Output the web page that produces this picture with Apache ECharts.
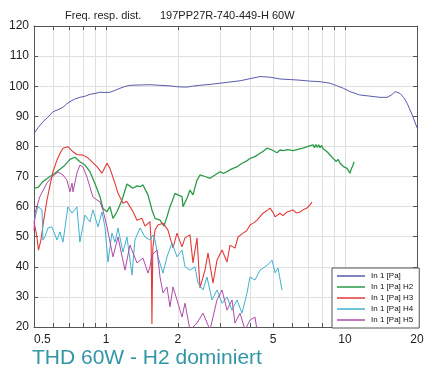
<!DOCTYPE html>
<html>
<head>
<meta charset="utf-8">
<script src="https://cdn.jsdelivr.net/npm/echarts@6/dist/echarts.min.js"></script>
<style>
html,body{margin:0;padding:0;background:#fff;}
#chart{width:432px;height:372px;}
</style>
</head>
<body>
<div id="chart"></div>
<script>
// frequency in kHz, level in dB
var seriesNames = ['In 1 [Pa]', 'In 1 [Pa] H2', 'In 1 [Pa] H3', 'In 1 [Pa] H4', 'In 1 [Pa] H5'];
var xTickValues = [0.5, 0.6, 0.7, 0.8, 0.9, 1, 2, 3, 4, 5, 6, 7, 8, 9, 10, 20];
var xLabelValues = [0.5, 1, 2, 5, 10, 20];

var fund = [[0.5,84.3],[0.52,86.2],[0.545,88.2],[0.57,89.6],[0.6,91.5],[0.63,92.2],[0.661,93.0],[0.685,94.1],[0.707,94.9],
    [0.74,95.7],[0.778,96.3],[0.82,96.7],[0.857,97.3],[0.9,97.6],[0.944,98.0],[0.99,97.9],[1.039,98.0],[1.09,98.6],
    [1.144,99.3],[1.2,99.9],[1.26,100.3],[1.39,100.4],[1.528,100.5],[1.68,100.3],[1.853,100.1],[2.0,99.8],[2.18,99.7],
    [2.3,100.0],[2.47,100.3],[2.72,100.6],[3.0,101.0],[3.3,101.4],[3.64,101.8],[4.0,102.5],[4.41,103.2],[4.85,103.0],
    [5.34,102.4],[5.9,102.2],[6.48,102.0],[7.1,101.7],[7.85,101.5],[8.65,101.0],[9.2,100.2],[9.84,99.3],[10.5,98.2],
    [11.5,97.1],[12.7,96.7],[14.0,96.3],[15.0,96.3],[15.7,97.2],[16.2,98.2],[17.0,97.6],[17.6,96.2],[18.2,94.3],
    [19.2,90.0],[20,86.2]];

var h2 = [[0.5,66.1],[0.52,66.4],[0.545,68.3],[0.56,69.0],[0.583,70.0],[0.61,71.0],[0.642,72.4],[0.67,73.6],[0.707,75.7],
    [0.742,76.4],[0.778,74.9],[0.817,73.8],[0.857,71.6],[0.899,67.7],[0.944,63.3],[0.971,59.4],[1.010,58.3],[1.039,60.0],
    [1.070,56.1],[1.112,58.3],[1.167,62.2],[1.224,67.5],[1.26,66.8],[1.297,66.1],[1.35,66.9],[1.388,66.6],[1.428,67.2],
    [1.499,63.9],[1.557,58.9],[1.604,56.1],[1.683,55.5],[1.748,53.5],[1.800,56.6],[1.853,60.0],[1.889,61.6],[1.944,64.4],
    [2.001,63.9],[2.080,63.3],[2.100,60.0],[2.183,62.8],[2.246,65.5],[2.312,63.9],[2.403,68.8],[2.474,70.5],[2.596,70.0],
    [2.724,69.4],[2.858,70.5],[2.999,71.6],[3.1,71.0],[3.209,71.6],[3.3,72.2],[3.400,72.7],[3.55,73.3],[3.707,74.4],
    [3.85,75.0],[4.005,76.0],[4.2,76.6],[4.410,77.7],[4.55,78.4],[4.717,79.4],[4.951,78.8],[5.194,77.9],[5.346,78.8],
    [5.503,78.6],[5.75,78.9],[6.059,78.6],[6.35,79.0],[6.674,79.4],[6.95,79.9],[7.1,80.2],[7.347,80.5],[7.45,79.6],
    [7.55,80.6],[7.65,79.7],[7.76,80.5],[7.86,79.6],[7.98,80.3],[8.1,79.2],[8.25,79.4],[8.408,78.2],[8.5,78.8],
    [8.62,77.3],[8.75,77.9],[8.910,76.0],[9.05,76.6],[9.2,75.0],[9.35,75.7],[9.530,74.4],[9.7,74.9],[9.85,73.3],
    [10.0,73.9],[10.19,72.7],[10.3,73.1],[10.49,71.1],[10.6,72.3],[10.70,72.7],[10.8,73.8],[10.91,74.9]];

var h3 = [[0.5,55.0],[0.514,50.0],[0.522,45.5],[0.535,49.0],[0.548,55.0],[0.566,62.0],[0.583,67.0],[0.6,71.5],[0.624,75.5],
    [0.645,78.0],[0.661,79.4],[0.693,79.9],[0.728,78.2],[0.756,77.3],[0.801,77.1],[0.83,76.5],[0.857,75.5],[0.917,73.3],
    [0.962,71.1],[1.010,74.4],[1.039,72.7],[1.091,67.7],[1.123,64.4],[1.178,61.1],[1.22,61.8],[1.26,60.0],[1.30,58.2],
    [1.348,55.5],[1.414,56.1],[1.456,53.5],[1.528,55.0],[1.545,48.0],[1.557,21.0],[1.570,46.0],[1.604,52.2],[1.651,53.9],
    [1.732,54.5],[1.817,52.2],[1.907,46.2],[1.982,51.2],[2.080,46.6],[2.141,49.6],[2.246,50.6],[2.312,41.3],[2.403,49.6],
    [2.474,33.0],[2.596,38.9],[2.672,44.6],[2.804,34.6],[2.914,42.2],[3.058,45.6],[3.209,41.6],[3.303,47.2],[3.465,46.2],
    [3.567,49.9],[3.744,51.2],[3.88,52.0],[4.005,53.9],[4.15,54.6],[4.283,55.5],[4.539,57.8],[4.7,58.6],[4.857,59.5],
    [5.0,58.0],[5.095,56.6],[5.346,57.8],[5.5,57.0],[5.719,58.2],[6.059,58.9],[6.25,57.9],[6.482,58.2],[6.7,59.0],
    [6.935,59.5],[7.1,60.4],[7.277,61.5]];

var h4 = [[0.5,55.0],[0.519,60.0],[0.540,58.9],[0.545,48.9],[0.556,50.0],[0.572,52.9],[0.594,53.3],[0.624,48.9],
    [0.642,51.6],[0.661,48.2],[0.693,59.9],[0.721,57.8],[0.756,59.9],[0.778,48.2],[0.817,57.2],[0.857,54.9],[0.882,58.9],
    [0.926,53.3],[0.962,58.2],[0.990,53.3],[1.020,41.6],[1.059,51.2],[1.091,48.2],[1.123,52.9],[1.178,44.9],[1.224,49.9],
    [1.285,37.3],[1.322,48.9],[1.388,52.9],[1.456,49.9],[1.528,48.9],[1.573,50.6],[1.604,48.9],[1.651,43.3],[1.732,37.9],
    [1.800,43.3],[1.889,47.9],[1.982,43.3],[2.080,45.6],[2.141,40.0],[2.246,38.9],[2.357,40.0],[2.426,34.6],[2.546,32.3],
    [2.646,36.6],[2.777,29.0],[2.914,32.3],[3.058,27.9],[3.209,30.0],[3.367,25.6],[3.533,29.0],[3.707,24.6],[3.890,31.3],
    [4.005,36.6],[4.202,35.6],[4.410,38.9],[4.627,40.0],[4.8,41.0],[4.951,42.2],[5.095,38.0],[5.244,39.6],[5.449,32.3]];

var h5 = [[0.5,52.0],[0.505,57.9],[0.529,63.3],[0.566,67.8],[0.594,69.8],[0.630,71.5],[0.661,70.5],[0.687,68.8],
    [0.707,64.9],[0.721,67.8],[0.728,64.9],[0.756,71.1],[0.778,73.8],[0.801,73.2],[0.833,69.8],[0.857,66.5],[0.882,63.2],
    [0.917,62.2],[0.944,61.6],[0.971,58.9],[1.010,53.3],[1.070,43.3],[1.123,49.9],[1.201,38.9],[1.260,47.2],[1.348,41.3],
    [1.428,42.9],[1.499,37.9],[1.528,40.0],[1.557,43.9],[1.635,45.6],[1.683,36.6],[1.732,31.3],[1.800,33.3],[1.853,26.7],
    [1.907,33.3],[1.982,29.0],[2.080,23.3],[2.141,27.9],[2.246,19.0],[2.403,21.3],[2.546,24.6],[2.724,19.0],[2.914,29.0],
    [3.058,32.3],[3.209,25.6],[3.367,29.0],[3.465,21.3],[3.637,24.6],[3.817,19.0],[4.005,22.3],[4.202,23.3],[4.283,19.0]];

var seriesData = [fund, h2, h3, h4, h5];
var colors = ['#5a5ab0', '#2b9a48', '#e23a3a', '#3fb2cf', '#b04aa6'];
var widths = [1, 1.3, 1.1, 1, 1];

var chart = echarts.init(document.getElementById('chart'), null, {renderer: 'canvas'});

var tickStyle = {show: true, inside: true, length: 4, lineStyle: {color: '#555'}, customValues: xTickValues};
var font = 'Liberation Sans, Arial, sans-serif';

var series = [];
for (var i = 0; i < seriesData.length; i++) {
    series.push({
        name: seriesNames[i],
        type: 'line',
        data: seriesData[i],
        symbol: 'none',
        clip: true,
        animation: false,
        lineStyle: {color: colors[i], width: widths[i]},
        itemStyle: {color: colors[i]}
    });
}

var option = {
    backgroundColor: '#fff',
    animation: false,
    grid: {left: 34, right: 15, top: 26, bottom: 45},
    legend: {
        data: seriesNames,
        orient: 'vertical',
        left: 332,
        top: 268,
        padding: [3, 6, 3, 5],
        itemGap: 1,
        itemWidth: 28,
        itemHeight: 1.5,
        icon: 'rect',
        backgroundColor: '#fff',
        borderColor: '#555',
        borderWidth: 1,
        textStyle: {fontSize: 8, fontFamily: font, color: '#111', padding: [0, 0, 0, 1], lineHeight: 10}
    },
    xAxis: [{
        type: 'log',
        min: 0.5,
        max: 20,
        position: 'bottom',
        axisLine: {show: true, lineStyle: {color: '#555'}},
        axisTick: tickStyle,
        axisLabel: {
            customValues: xLabelValues,
            fontSize: 12, fontFamily: font, color: '#222', margin: 7,
            alignMinLabel: 'left',
            formatter: function(v) { return String(+v.toPrecision(3)); }
        },
        splitLine: {show: true, lineStyle: {color: '#e0e0e0', width: 1}}
    }, {
        type: 'log',
        min: 0.5,
        max: 20,
        position: 'top',
        axisLine: {show: true, lineStyle: {color: '#555'}},
        axisTick: tickStyle,
        axisLabel: {show: false},
        splitLine: {show: false}
    }],
    yAxis: [{
        type: 'value',
        min: 20,
        max: 120,
        interval: 10,
        position: 'left',
        axisLine: {show: true, lineStyle: {color: '#555'}},
        axisTick: {show: true, inside: true, length: 4, lineStyle: {color: '#555'}},
        axisLabel: {fontSize: 12, fontFamily: font, color: '#222', margin: 5},
        splitLine: {show: true, lineStyle: {color: '#e0e0e0', width: 1}}
    }, {
        type: 'value',
        min: 20,
        max: 120,
        interval: 10,
        position: 'right',
        axisLine: {show: true, lineStyle: {color: '#555'}},
        axisTick: {show: true, inside: true, length: 4, lineStyle: {color: '#555'}},
        axisLabel: {show: false},
        splitLine: {show: false}
    }],
    graphic: [{
        type: 'text', left: 65, top: 10,
        style: {text: 'Freq. resp. dist.', fontSize: 11, fontFamily: font, fill: '#222'}
    }, {
        type: 'text', left: 160, top: 10,
        style: {text: '197PP27R-740-449-H 60W', fontSize: 11, fontFamily: font, fill: '#222'}
    }, {
        type: 'text', left: 32, top: 348,
        style: {text: 'THD 60W - H2 dominiert', fontSize: 21, fontFamily: font, fill: '#3296a6'}
    }],
    series: series
};

chart.setOption(option);
</script>
</body>
</html>
